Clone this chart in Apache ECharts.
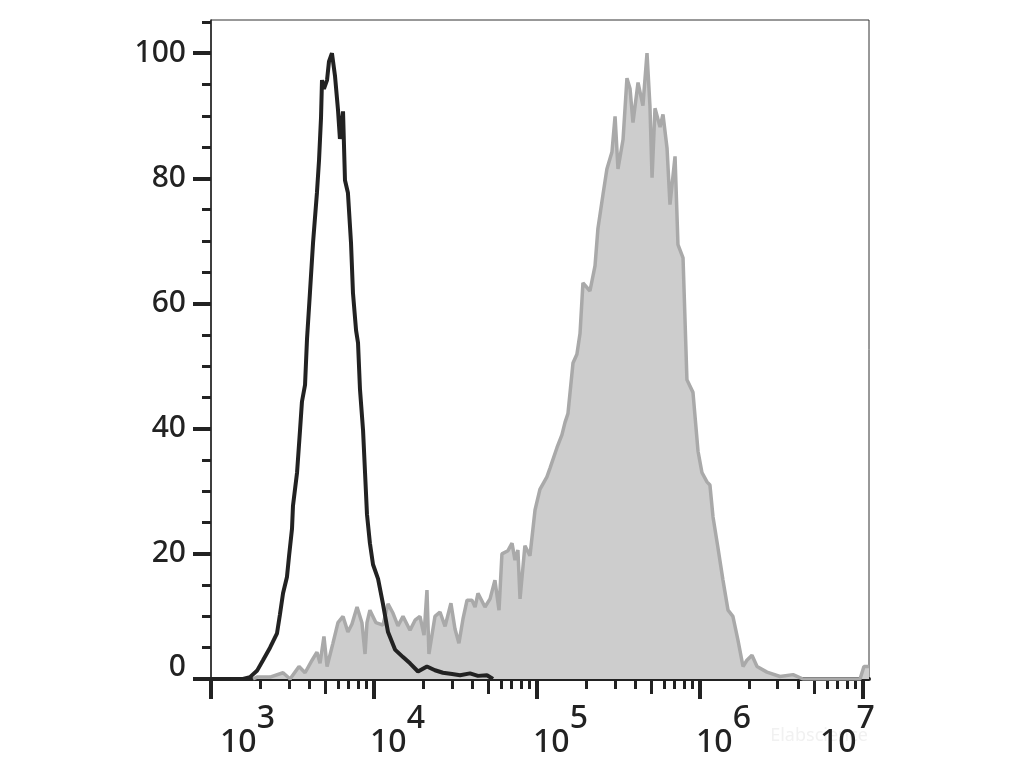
<!DOCTYPE html>
<html><head><meta charset="utf-8">
<script src="https://cdn.jsdelivr.net/npm/echarts@6/dist/echarts.min.js"></script>
<style>html,body{margin:0;padding:0;background:#fff}#c{width:1020px;height:765px}</style>
</head><body><div id="c"></div>
<script>
// x axis in log10(fluorescence intensity) units
const decadeTicks = [3, 4, 5, 6, 7];
const minorMultipliers = [2, 3, 4, 6, 7, 8, 9];
const midMultiplier = 5;
const yMajorTicks = [0, 20, 40, 60, 80, 100];
const yMinorTicks = [5, 10, 15, 25, 30, 35, 45, 50, 55, 65, 70, 75, 85, 90, 95, 105];

const blackLogX = [3.117,3.196,3.239,3.282,3.319,3.362,3.405,3.423,3.442,3.466,3.479,3.497,3.503,3.528,3.546,3.558,3.577,3.589,3.607,3.626,3.650,3.663,3.675,3.681,3.693,3.712,3.724,3.742,3.761,3.779,3.791,3.810,3.822,3.840,3.859,3.871,3.890,3.902,3.914,3.933,3.945,3.957,3.975,3.994,4.025,4.055,4.086,4.129,4.178,4.221,4.270,4.325,4.374,4.423,4.479,4.528,4.589,4.638,4.693,4.730];
const blackCount = [0,0,0.3,1.3,3,5,7.3,10.3,13.7,16.3,19.7,24,27.7,33,39.7,44.3,47,54.3,61.7,69.7,77.7,83,89.7,95.7,94.3,95.7,98.7,100,96.3,91,86.3,90.7,79.7,77.7,69.7,61.7,55.7,53.7,46.3,39.7,33,26.3,21.7,18.3,16,12,7.5,4.7,3.5,2.5,1.2,2,1.4,1,0.8,0.6,0.9,0.5,0.6,0];

const grayLogX = [3.258,3.282,3.362,3.442,3.485,3.540,3.577,3.620,3.650,3.669,3.693,3.712,3.748,3.779,3.810,3.840,3.865,3.896,3.926,3.945,3.957,3.975,4.012,4.055,4.086,4.117,4.147,4.178,4.221,4.252,4.282,4.307,4.325,4.337,4.374,4.405,4.436,4.472,4.497,4.521,4.546,4.571,4.601,4.620,4.638,4.681,4.712,4.742,4.767,4.785,4.822,4.847,4.865,4.883,4.896,4.926,4.957,4.988,5.018,5.061,5.080,5.123,5.153,5.172,5.190,5.221,5.245,5.264,5.282,5.325,5.356,5.374,5.405,5.429,5.460,5.479,5.497,5.528,5.552,5.571,5.589,5.620,5.650,5.675,5.693,5.706,5.724,5.755,5.773,5.798,5.816,5.847,5.865,5.896,5.920,5.957,5.988,6.012,6.043,6.061,6.080,6.110,6.141,6.172,6.202,6.233,6.264,6.288,6.319,6.350,6.411,6.491,6.571,6.632,6.982,7.006,7.037];
const grayCount = [0,0.3,0.3,1,0,2,1,3,4.3,2.5,6.8,2,5.7,9,10,7.5,8.8,11.5,9,4,9,11,9,8.6,12,10.5,8.5,10,7.8,9.4,10,7,14.2,4,10,10.7,8.4,12.1,8,5.7,9.6,12.6,12.6,11.5,13.7,11.5,12.8,15.8,11,20,20.5,21.7,19,20.6,12.8,21.3,19.7,27,30.3,32.3,33.7,37,39,41,42.4,50.5,51.9,55.2,63.3,62,66,72,77.4,81.5,84.2,89.9,81.5,86.2,96,94.3,88.9,95.3,91.6,100,91.6,80.1,91.2,88.2,90.2,84.8,75.8,83.5,69.4,67.3,47.8,45.8,36.4,33,31.5,31,25.9,21,15.8,11,10,6.2,2,3,3.8,2,1.1,0.4,0.7,0,0,2,2];

const zip = (xs, ys) => xs.map((x, i) => [x, ys[i]]);
const xMin = 3, xMax = 7.037, yMax = 105.3;
const minorX = [], midX = [];
decadeTicks.slice(0, -1).forEach(d => {
  minorMultipliers.forEach(k => minorX.push(d + Math.log10(k)));
  midX.push(d + Math.log10(midMultiplier));
});

const ink = '#222';
const font = 'Noto Sans';
const weight = 500;

function subAxisX(vals, len, w) {
  return {
    type: 'value', min: xMin, max: xMax, position: 'bottom', gridIndex: 0,
    axisLine: { show: false }, splitLine: { show: false }, axisLabel: { show: false },
    axisTick: { show: true, customValues: vals, length: len, lineStyle: { color: ink, width: w } }
  };
}

const chart = echarts.init(document.getElementById('c'), null, { renderer: 'canvas' });
chart.setOption({
  animation: false,
  backgroundColor: '#fff',
  grid: { left: 211, right: 151, top: 20, bottom: 86, show: true, borderColor: '#333', borderWidth: 1, backgroundColor: 'transparent' },
  xAxis: [
    {
      type: 'value', min: xMin, max: xMax, position: 'bottom',
      axisLine: { show: true, onZero: false, lineStyle: { color: ink, width: 4 } },
      splitLine: { show: false },
      axisTick: { show: true, customValues: decadeTicks, length: 20, lineStyle: { color: ink, width: 4 } },
      axisLabel: {
        show: true, customValues: decadeTicks, margin: 24, align: 'center', color: ink,
        formatter: function (v) {
          const e = Math.round(v);
          if (e === 3) return '{pa| }{b|10}{s|3}';
          if (e === 7) return '{b|10}{s|7}{pc| }';
          return '{pb| }{b|10}{s|' + e + '}';
        },
        rich: {
          pa: { width: 73, fontSize: 10 },
          pb: { width: 47, fontSize: 10 },
          pc: { width: 31, fontSize: 10 },
          b: { fontSize: 32, fontFamily: font, fontWeight: weight, color: ink, padding: [24, 0, 0, 0], verticalAlign: 'bottom' },
          s: { fontSize: 32, fontFamily: font, fontWeight: weight, color: ink, padding: [0, 0, 24, 0], verticalAlign: 'top' }
        }
      }
    },
    subAxisX(midX, 15, 3),
    subAxisX(minorX, 10, 3)
  ],
  yAxis: [
    {
      type: 'value', min: 0, max: yMax, position: 'left',
      axisLine: { show: true, onZero: false, lineStyle: { color: ink, width: 1.5 } },
      splitLine: { show: false },
      axisTick: { show: true, customValues: yMajorTicks, length: 18, lineStyle: { color: ink, width: 4 } },
      axisLabel: {
        show: true, customValues: yMajorTicks, margin: 25, color: ink,
        formatter: function (v) { return v === 0 ? '{z|0}' : '{n|' + v + '}'; },
        rich: {
          n: { fontSize: 30, fontFamily: font, fontWeight: weight, color: ink },
          z: { fontSize: 30, fontFamily: font, fontWeight: weight, color: ink, padding: [0, 0, 24, 0] }
        }
      }
    },
    {
      type: 'value', min: 0, max: yMax, position: 'left',
      axisLine: { show: false }, splitLine: { show: false }, axisLabel: { show: false },
      axisTick: { show: true, customValues: yMinorTicks, length: 9, lineStyle: { color: ink, width: 3 } }
    }
  ],
  graphic: [
    { type: 'text', right: 152, bottom: 20, style: { text: 'Elabscience', fill: '#f1f1f1', font: '18px "Noto Sans"' }, silent: true }
  ],
  series: [
    {
      type: 'line', name: 'gray', xAxisIndex: 0, yAxisIndex: 0,
      data: zip(grayLogX, grayCount), showSymbol: false, smooth: false,
      lineStyle: { color: '#a9a9a9', width: 3.5 },
      areaStyle: { color: '#cdcdcd', opacity: 1 },
      z: 2
    },
    {
      type: 'line', name: 'black', xAxisIndex: 0, yAxisIndex: 0,
      data: zip(blackLogX, blackCount), showSymbol: false, smooth: false,
      lineStyle: { color: ink, width: 4 },
      z: 3
    }
  ]
});
</script></body></html>
